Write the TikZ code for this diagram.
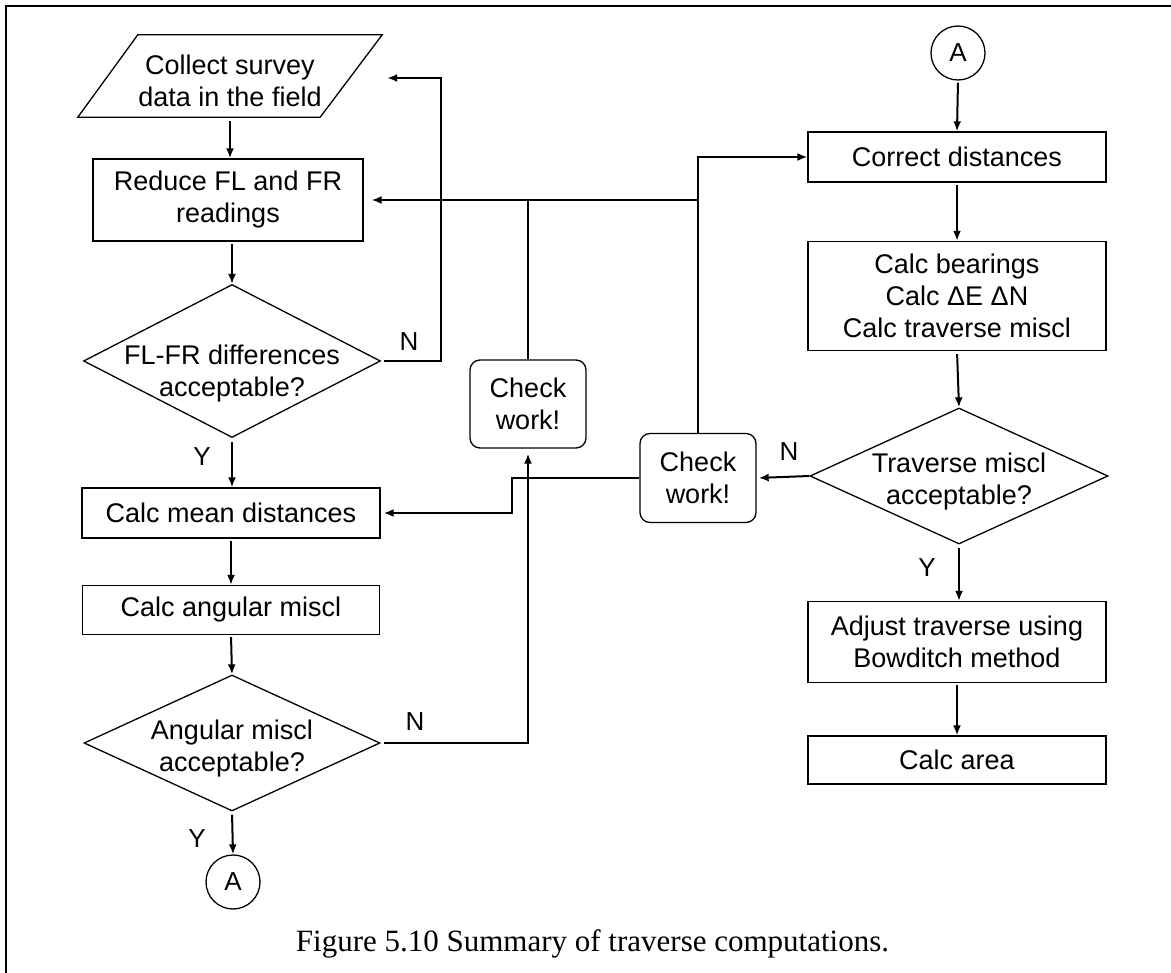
\documentclass[tikz,border=0pt]{standalone}
\usepackage{fontspec}
\setmainfont{Liberation Sans}
\newfontfamily\capfont{Liberation Serif}
\usetikzlibrary{shapes.geometric,arrows.meta,calc}
\begin{document}
\begin{tikzpicture}[x=1pt,y=-1pt,
  every node/.style={font=\fontsize{27}{32}\selectfont, inner sep=0pt},
  box/.style={draw, line width=1.3pt, minimum width=298pt, align=center},
  dia/.style={draw, diamond, line width=1.3pt, inner sep=0pt},
  chk/.style={draw, rounded corners=10pt, line width=1.3pt, minimum width=116pt, minimum height=88pt, align=center},
  conn/.style={draw, circle, line width=1.3pt, minimum size=54pt, font=\fontsize{26}{30}\selectfont},
  arr/.style={line width=2pt, -{Latex[length=10pt,width=8pt]}},
  ln/.style={line width=2pt},
  lbl/.style={font=\fontsize{26}{30}\selectfont}
]
\useasboundingbox (0,0) rectangle (1171,973);
\draw[line width=2.3pt] (6,973) -- (6,6) -- (1171,6);

% left column
\node[minimum width=304pt, minimum height=82pt,
  label={[align=center, yshift=-5pt]center:Collect survey\\data in the field}] (collect) at (230,76) {};
\draw[line width=1.3pt] (collect.south west) -- ($(collect.north west)+(60,0)$) -- (collect.north east) -- ($(collect.south east)+(-62,0)$) -- cycle;
\node[box, minimum width=270pt, minimum height=82pt] (reduce) at (228,200) {Reduce FL and FR\\readings};
\node[dia, minimum width=297pt, minimum height=153pt,
  label={[align=center, yshift=-13pt]center:FL-FR differences\\acceptable?}] (d1) at (232,361) {};
\node[box, minimum height=50pt] (mean) at (231,513) {Calc mean distances};
\node[box, minimum width=297pt, minimum height=49pt] (ang) at (231,610) {Calc angular miscl};
\node[dia, minimum width=296pt, minimum height=136pt,
  label={[align=center, yshift=-6pt]center:Angular miscl\\acceptable?}] (d2) at (232,743) {};
\node[conn] (A1) at (233,882) {A};

% right column
\node[conn] (A2) at (958,53) {A};
\node[box, minimum height=50pt] (correct) at (957,157) {Correct distances};
\node[box, minimum height=109pt] (bear) at (957,296) {Calc bearings\\Calc ΔE ΔN\\Calc traverse miscl};
\node[dia, minimum width=298pt, minimum height=136pt,
  label={[align=center, yshift=-6pt]center:Traverse miscl\\acceptable?}] (d3) at (959,476) {};
\node[box, minimum height=81pt] (adjust) at (957,642) {Adjust traverse using\\Bowditch method};
\node[box, minimum height=48pt] (area) at (957,760) {Calc area};

% check boxes
\node[chk] (chk1) at (528,404) {Check\\work!};
\node[chk, minimum height=89pt] (chk2) at (698,478) {Check\\work!};

% vertical flow
\draw[arr, shorten <=4pt] (collect.south) -- (collect.south |- reduce.north);
\draw[arr, shorten <=2pt] (reduce.south -| d1.north) -- (d1.north);
\draw[arr, shorten <=4pt] (d1.south) -- (d1.south |- mean.north);
\draw[arr, shorten <=2pt] (mean.south) -- (ang.north);
\draw[arr, shorten <=2pt] (ang.south) -- (d2.north);
\draw[arr, shorten <=3pt] (d2.south) -- (A1.north);
\draw[arr, shorten <=2pt] (A2.south) -- (correct.north);
\draw[arr, shorten <=2pt] (correct.south) -- (bear.north);
\draw[arr, shorten <=3pt] (bear.south) -- (d3.north);
\draw[arr, shorten <=3pt] (d3.south) -- (d3.south |- adjust.north);
\draw[arr, shorten <=2pt] (adjust.south) -- (area.north);

% loops
\coordinate (cin) at ([xshift=5pt, yshift=-2pt]collect.east);
\draw[arr, shorten <=3pt] (d1.east) -- ++(59.5,0) |- (cin);
\coordinate (j2) at (chk2.north |- reduce.east);
\draw[arr, shorten >=8pt] (j2) -- (reduce.east);
\draw[ln] (chk1.north) -- (chk1.north |- j2);
\draw[arr] (chk2.north) -- (chk2.north |- correct.west) -- (correct.west);
\draw[arr, shorten <=3pt, shorten >=5pt] (d2.east) -| (chk1.south);
\draw[arr, shorten >=2pt] (d3.west) -- (chk2.east);
\draw[arr, shorten >=3pt] (chk2.west) -| ($(mean.east)+(131,0)$) -- (mean.east);

% labels
\node[lbl] (n1) at (409,342) {N};
\node[lbl] (y1) at (202,457) {Y};
\node[lbl] (n2) at (415,722) {N};
\node[lbl] (y2) at (197,839) {Y};
\node[lbl] (n3) at (789,452) {N};
\node[lbl] (y3) at (927,568) {Y};

% caption
\node[font=\capfont\fontsize{31}{36}\selectfont, anchor=base] (cap) at (592.5,951) {Figure 5.10 Summary of traverse computations.};
\end{tikzpicture}
\end{document}
